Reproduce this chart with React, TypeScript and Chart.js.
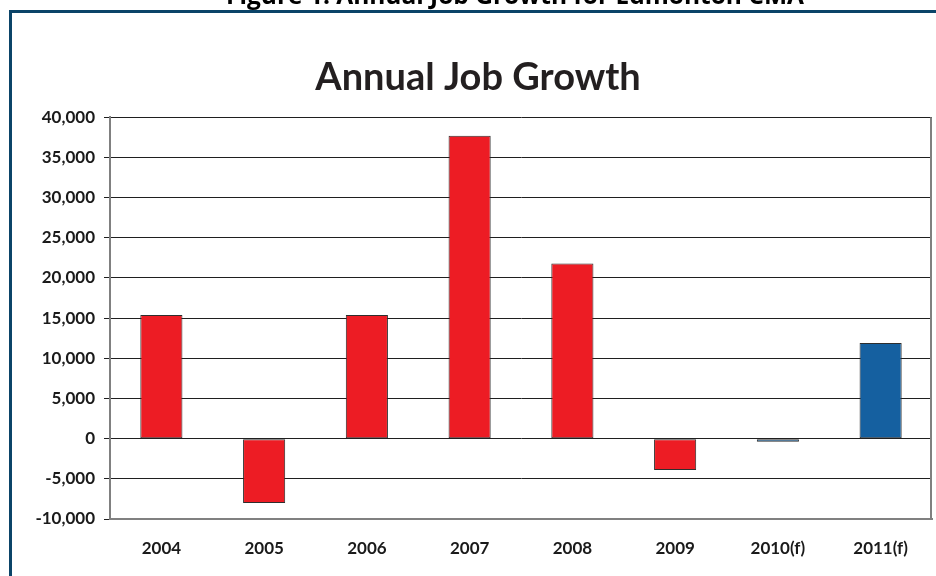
import React, { useEffect, useRef } from "react";
import { Chart, registerables } from "chart.js";

Chart.register(...registerables);

const captionText = "Figure 1: Annual Job Growth for Edmonton CMA";
const chartTitle = "Annual Job Growth";
const categories = ["2004", "2005", "2006", "2007", "2008", "2009", "2010(f)", "2011(f)"];
const jobGrowth = [15400, -8000, 15400, 37700, 21800, -3900, -400, 11900];
const isForecast = [false, false, false, false, false, false, true, true];
const yMin = -10000;
const yMax = 40000;
const yStep = 5000;

const ACTUAL_COLOR = "#ed1c24";
const FORECAST_COLOR = "#1560a0";

const rightBorderPlugin = {
  id: "rightBorder",
  afterDraw(chart: any) {
    const { ctx, chartArea } = chart;
    ctx.save();
    ctx.strokeStyle = "#808080";
    ctx.lineWidth = 2;
    ctx.beginPath();
    ctx.moveTo(chartArea.right - 1, chartArea.top);
    ctx.lineTo(chartArea.right - 1, chartArea.bottom);
    ctx.stroke();
    ctx.restore();
  },
};

export default function App() {
  const canvasRef = useRef<HTMLCanvasElement | null>(null);

  useEffect(() => {
    if (!canvasRef.current) return;
    const chart = new Chart(canvasRef.current, {
      type: "bar",
      data: {
        labels: categories,
        datasets: [
          {
            data: jobGrowth,
            backgroundColor: isForecast.map((f) => (f ? FORECAST_COLOR : ACTUAL_COLOR)),
            borderColor: "#2e2e2e",
            borderWidth: 1,
            borderSkipped: false,
            barPercentage: 0.41,
            categoryPercentage: 1,
          },
        ],
      },
      options: {
        responsive: false,
        animation: false,
        devicePixelRatio: 1,
        layout: { padding: { top: 0, left: 24, right: 4, bottom: 0 } },
        plugins: {
          legend: { display: false },
          tooltip: { enabled: false },
          title: {
            display: true,
            text: chartTitle,
            color: "#231f20",
            font: { family: "Lato", size: 38, weight: "bold", lineHeight: 1.2 },
            padding: { top: 55.2, bottom: 16.5 },
          },
        },
        scales: {
          x: {
            grid: { display: false, drawTicks: false },
            border: { display: true, color: "#808080", width: 2 },
            ticks: {
              color: "#1a1a1a",
              font: { family: "Lato", size: 17, weight: "bold" },
              padding: 19,
              maxRotation: 0,
            },
            afterFit(scale: any) {
              scale.height = 57;
            },
          },
          y: {
            min: yMin,
            max: yMax,
            grid: { color: "#1f1f1f", lineWidth: 1, tickLength: 6, drawTicks: true },
            border: { display: true, color: "#808080", width: 2 },
            ticks: {
              stepSize: yStep,
              color: "#1a1a1a",
              font: { family: "Lato", size: 17, weight: "bold" },
              padding: 9,
              callback: (v: any) => Number(v).toLocaleString("en-US"),
            },
            afterFit(scale: any) {
              scale.width = 86;
            },
          },
        },
      },
      plugins: [rightBorderPlugin],
    } as any);
    return () => chart.destroy();
  }, []);

  return (
    <div
      style={{
        position: "absolute",
        left: 0,
        top: 0,
        width: 936,
        height: 576,
        overflow: "hidden",
        background: "#ffffff",
      }}
    >
      <canvas ref={canvasRef} width={936} height={576} style={{ position: "absolute", left: 0, top: 0 }} />
      <div
        style={{
          position: "absolute",
          left: 9,
          top: 10,
          right: -10,
          bottom: -10,
          border: "3px solid #0b4468",
          pointerEvents: "none",
        }}
      />
      <div
        style={{
          position: "absolute",
          left: 515,
          top: -16.8,
          transform: "translateX(-50%)",
          whiteSpace: "nowrap",
          fontFamily: "'Open Sans', sans-serif",
          fontWeight: "bold",
          fontSize: 24.5,
          lineHeight: 1,
          color: "#000000",
        }}
      >
        {captionText}
      </div>
    </div>
  );
}
